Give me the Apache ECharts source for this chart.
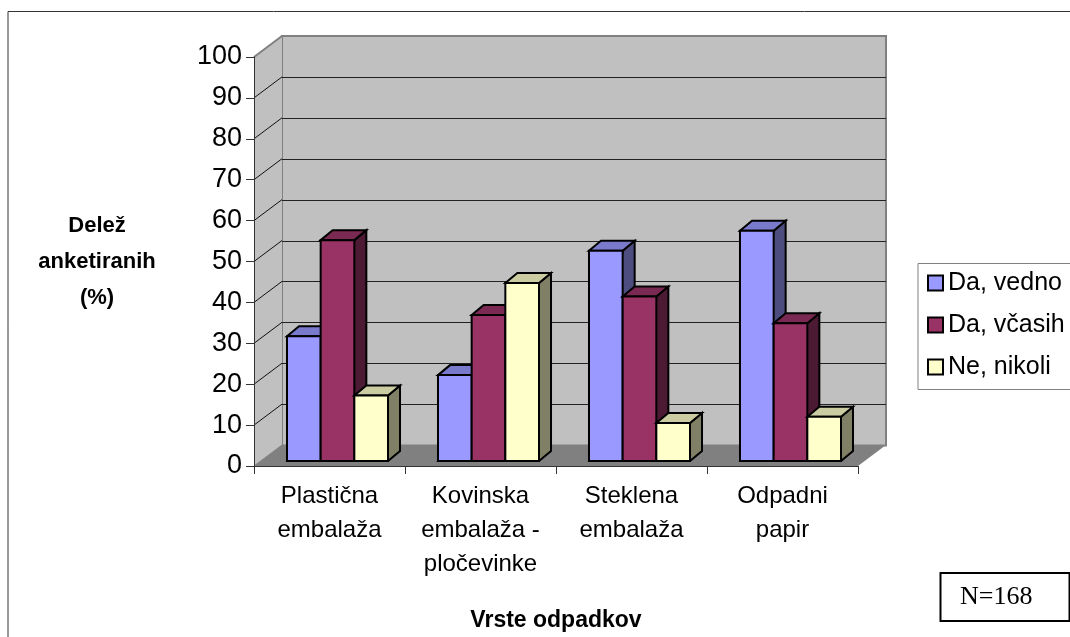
<!DOCTYPE html>
<html>
<head>
<meta charset="utf-8">
<title>Vrste odpadkov</title>
<script src="https://cdn.jsdelivr.net/npm/echarts@6/dist/echarts.min.js"></script>
<style>
html, body { margin: 0; padding: 0; background: #fff; }
#chart { width: 1070px; height: 637px; }
</style>
</head>
<body>
<div id="chart"></div>
<script>
var categories = ['Plastična\nembalaža', 'Kovinska\nembalaža -\npločevinke', 'Steklena\nembalaža', 'Odpadni\npapir'];
var seriesNames = ['Da, vedno', 'Da, včasih', 'Ne, nikoli'];
var daVedno = [30.5, 21, 51.4, 56.3];
var daVcasih = [54, 35.7, 40.2, 33.7];
var neNikoli = [16, 43.5, 9.3, 10.8];
var yTicks = [0, 10, 20, 30, 40, 50, 60, 70, 80, 90, 100];

// front, top, side
var faceColors = [
    ['#9999ff', '#7a7acc', '#4d4d80'],
    ['#993366', '#7a2952', '#4d1a33'],
    ['#ffffcc', '#cccca3', '#808066']
];

var FONT = '"Liberation Sans", Arial, sans-serif';
var WALL_DX = 28, WALL_DY = -21;
var BAR_SHIFT_X = 8, BAR_SHIFT_Y = -5;
var BAR_DX = 12, BAR_DY = -10;

function barRender (seriesIdx) {
    return function (params, api) {
        var cat = api.value(0);
        var size = api.size([1, 0]);
        var barW = size[0] * 0.223;
        var top = api.coord([cat, api.value(1)]);
        var base = api.coord([cat, 0]);
        var x0 = top[0] + BAR_SHIFT_X + (seriesIdx - 1.5) * barW;
        var x1 = x0 + barW;
        var yT = top[1] + BAR_SHIFT_Y;
        var yB = base[1] + BAR_SHIFT_Y;
        var line = {stroke: '#000', lineWidth: 2, lineJoin: 'miter'};
        var colors = faceColors[seriesIdx];
        function poly (pts, fill) {
            return {
                type: 'polygon',
                shape: {points: pts},
                style: Object.assign({fill: fill}, line)
            };
        }
        return {
            type: 'group',
            children: [
                poly([[x0, yB], [x1, yB], [x1 + BAR_DX, yB + BAR_DY], [x1 + BAR_DX, yT + BAR_DY], [x1, yT]], colors[2]),
                poly([[x0, yT], [x0 + BAR_DX, yT + BAR_DY], [x1 + BAR_DX, yT + BAR_DY], [x1, yT]], colors[1]),
                poly([[x0, yT], [x1, yT], [x1, yB], [x0, yB]], colors[0])
            ]
        };
    };
}

function wallRender (params, api) {
    var cs = params.coordSys;
    var v = api.value(0);
    var y = api.coord([0, v])[1];
    var children = [];
    if (v === 0) {
        // side wall and floor, drawn once under the diagonal lines
        children.push({
            type: 'polygon',
            shape: {points: [[cs.x, cs.y], [cs.x + WALL_DX, cs.y + WALL_DY], [cs.x + WALL_DX, y + WALL_DY], [cs.x, y]]},
            style: {fill: '#c0c0c0'}
        });
        children.push({
            type: 'polygon',
            shape: {points: [[cs.x, y], [cs.x + WALL_DX, y + WALL_DY], [cs.x + cs.width + WALL_DX, y + WALL_DY], [cs.x + cs.width, y]]},
            style: {fill: '#808080'}
        });
    }
    children.push({
        type: 'line',
        shape: {x1: cs.x, y1: y, x2: cs.x + WALL_DX, y2: y + WALL_DY},
        style: {stroke: v === 100 ? '#808080' : (v === 0 ? '#808080' : '#111'), lineWidth: v === 100 ? 2 : 1}
    });
    return {type: 'group', children: children};
}

var chart = echarts.init(document.getElementById('chart'), null, {renderer: 'canvas'});

var barSeries = [daVedno, daVcasih, neNikoli].map(function (values, s) {
    return {
        name: seriesNames[s],
        type: 'custom',
        xAxisIndex: 0,
        yAxisIndex: 0,
        z: 3 + s,
        silent: true,
        itemStyle: {color: faceColors[s][0]},
        encode: {x: 0, y: 1},
        data: values.map(function (v, i) { return [i, v]; }),
        renderItem: barRender(s)
    };
});

chart.setOption({
    animation: false,
    backgroundColor: '#fff',
    textStyle: {fontFamily: FONT},
    legend: {
        orient: 'vertical',
        left: 927,
        top: 268,
        padding: 0,
        itemWidth: 15,
        itemHeight: 15,
        itemGap: 12,
        icon: 'rect',
        selectedMode: false,
        itemStyle: {borderColor: '#000', borderWidth: 2},
        textStyle: {fontFamily: FONT, fontSize: 25, color: '#000', lineHeight: 30},
        data: seriesNames
    },
    grid: [
        {left: 254, top: 57, width: 604, height: 409.5},
        {left: 282, top: 36, width: 604, height: 409.5, show: true, backgroundColor: '#c0c0c0', borderColor: '#808080', borderWidth: 2}
    ],
    xAxis: [
        {
            type: 'category',
            gridIndex: 0,
            data: categories,
            z: 6,
            name: 'Vrste odpadkov',
            nameLocation: 'middle',
            nameGap: 143,
            nameTextStyle: {fontFamily: FONT, fontWeight: 'bold', fontSize: 23, color: '#000'},
            axisLine: {lineStyle: {color: '#333', width: 1}},
            axisTick: {show: true, length: 8, alignWithLabel: false, lineStyle: {color: '#333'}},
            axisLabel: {fontFamily: FONT, fontSize: 24, color: '#000', lineHeight: 34, margin: 13, interval: 0}
        },
        {type: 'category', gridIndex: 1, data: categories, show: false}
    ],
    yAxis: [
        {
            type: 'value',
            gridIndex: 0,
            min: 0,
            max: 100,
            interval: 10,
            z: 6,
            name: 'Delež\nanketiranih\n(%)',
            nameLocation: 'middle',
            nameRotate: 0,
            nameGap: 157,
            nameTextStyle: {fontFamily: FONT, fontWeight: 'bold', fontSize: 22, color: '#000', lineHeight: 36, align: 'center', verticalAlign: 'middle'},
            axisLine: {show: true, lineStyle: {color: '#333', width: 1}},
            axisTick: {show: true, length: 8, lineStyle: {color: '#333'}},
            axisLabel: {fontFamily: FONT, fontSize: 27, color: '#000', margin: 12},
            splitLine: {show: false}
        },
        {
            type: 'value',
            gridIndex: 1,
            min: 0,
            max: 100,
            interval: 10,
            axisLine: {show: false},
            axisTick: {show: false},
            axisLabel: {show: false},
            splitLine: {show: true, showMinLine: false, showMaxLine: false, lineStyle: {color: '#222', width: 1}}
        }
    ],
    series: [
        {
            name: 'walls',
            type: 'custom',
            xAxisIndex: 0,
            yAxisIndex: 0,
            z: 2,
            silent: true,
            encode: {y: 0},
            data: yTicks.map(function (t) { return [t]; }),
            renderItem: wallRender
        }
    ].concat(barSeries),
    graphic: [
        {type: 'line', silent: true, shape: {x1: 8, y1: 11.5, x2: 1070, y2: 11.5}, style: {stroke: '#333', lineWidth: 1}},
        {type: 'line', silent: true, shape: {x1: 8, y1: 11.5, x2: 8, y2: 637}, style: {stroke: '#333', lineWidth: 1}},
        {type: 'rect', silent: true, z: -1, shape: {x: 918, y: 263.5, width: 170, height: 126}, style: {fill: '#fff', stroke: '#808080', lineWidth: 1}},
        {type: 'rect', silent: true, shape: {x: 940.5, y: 573, width: 129, height: 48}, style: {fill: '#fff', stroke: '#000', lineWidth: 2}},
        {type: 'text', silent: true, x: 960, y: 597, style: {text: 'N=168', fontFamily: '"Liberation Serif", "Times New Roman", serif', fontSize: 26, fill: '#000', verticalAlign: 'middle'}}
    ]
});
</script>
</body>
</html>
